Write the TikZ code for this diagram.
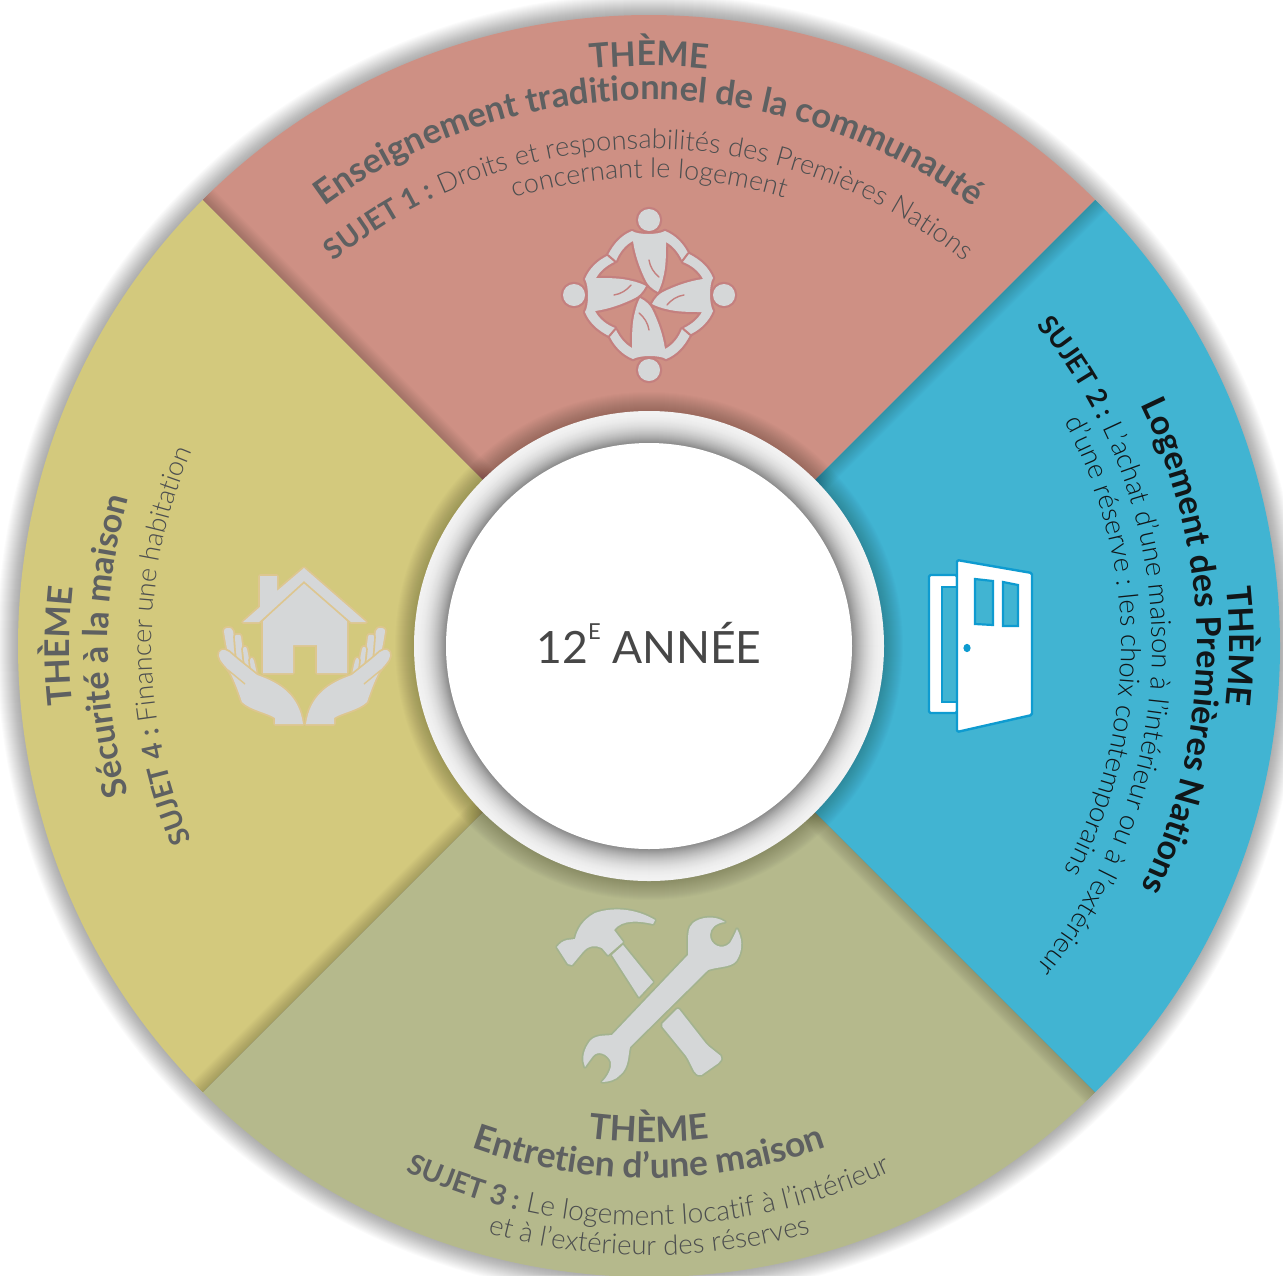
\documentclass[tikz,border=0pt]{standalone}
\usepackage{fontspec}
\setmainfont{Lato}
\newfontface\lightf{Lato Light}
\usetikzlibrary{decorations.text}
\definecolor{cred}{HTML}{CE9084}
\definecolor{cblue}{HTML}{41B4D2}
\definecolor{colive}{HTML}{B5B98C}
\definecolor{cyellow}{HTML}{D3C97D}
\definecolor{icong}{HTML}{D5D7D8}
\definecolor{oPink}{HTML}{C4807F}
\definecolor{oTan}{HTML}{DDC690}
\definecolor{oGreen}{HTML}{A3B38F}
\definecolor{oBlue}{HTML}{0E9BD0}
\definecolor{tgrey}{HTML}{5E6061}
\definecolor{tlight}{HTML}{4C4E4F}
\definecolor{tdark}{HTML}{111618}
\newcommand\hdf[1]{\fontsize{#1}{#1}\selectfont\bfseries}
\newcommand\ltf[1]{\fontsize{#1}{#1}\selectfont\lightf}
\newcommand\arctxt[4]{\path[decorate,decoration={text along path,text align=center,text={#4}}] (#2:#1) arc[start angle=#2,end angle=#3,radius=#1];}
\newcommand\wdg[2]{(0,0) -- (#1:631) arc[start angle=#1,end angle=#2,radius=631] -- cycle}
\newcommand\edgeshade[3]{\begin{scope}\clip \wdg{#1}{#2};
 \foreach \w in {2,4,...,30} \draw[black,opacity=.012,line width=\w pt] (0,0) -- (#3:631);
 \end{scope}}
\tikzset{
 people/.style={fill=icong,preaction={draw=oPink,line width=4.4pt,line join=round}},
 crease/.style={draw=oPink,line width=1.4pt,line cap=round},
 houseicon/.style={fill=icong,preaction={draw=oTan,line width=3.6pt,line join=round}},
 toolicon/.style={fill=icong,preaction={draw=oGreen,line width=3.4pt,line join=round}},
 dooricon/.style={fill=white,draw=oBlue,line width=2.4pt,line join=round,rounded corners=1.5pt},
 doorhole/.style={fill=cblue,draw=oBlue,line width=2.2pt,line join=miter}
}
\begin{document}
\begin{tikzpicture}[x=1pt,y=-1pt]
\useasboundingbox (0,0) rectangle (1283,1275);
\fill[white] (0,0) rectangle (1283,1275);
\coordinate (C) at (649,646);
% concentric parts, y upward
\begin{scope}[shift={(C)},x=1pt,y=1pt]
 \foreach \r in {632,633,...,652} \fill[black,opacity=.014] (0,0) circle[radius=\r];
 \fill[cred] \wdg{45}{135};
 \fill[cyellow] \wdg{135}{225};
 \fill[colive] \wdg{225}{315};
 \fill[cblue] \wdg{-45}{45};
 \edgeshade{-45}{45}{45}
 \edgeshade{225}{315}{-45}
 \edgeshade{135}{225}{225}
 \edgeshade{45}{135}{135}
 \foreach \r in {236,237,...,254} \fill[black,opacity=.012] (0,0) circle[radius=\r];
 \foreach \r in {235,234,...,204}{
  \pgfmathsetmacro\p{5+42*((235-\r)/32)^2}
  \fill[black!\p!white] (0,0) circle[radius=\r];
 }
 \fill[white] (0,0) circle[radius=203];
 % top
 \arctxt{580}{150}{30}{|\hdf{34}\color{tgrey}|THÈME}
 \arctxt{546}{160}{20}{|\hdf{34.5}\color{tgrey}|Enseignement traditionnel de la communauté}
 \arctxt{497}{160}{20}{|\hdf{28.5}\color{tgrey}|SUJET 1 :|\ltf{27.2}\color{tlight}| Droits et responsabilités des Premières Nations}
 \arctxt{468}{160}{20}{|\ltf{27}\color{tlight}|concernant le logement}
 % right
 \arctxt{580}{70}{-70}{|\hdf{34}\color{tdark}|THÈME}
 \arctxt{548}{70}{-70}{|\hdf{34}\color{tdark}|Logement des Premières Nations}
 \arctxt{503}{70}{-70}{|\hdf{27}\color{tdark}|SUJET 2 :|\ltf{27.6}\color{tdark}| L’achat d’une maison à l’intérieur ou à l’extérieur}
 \arctxt{472}{70}{-70}{|\ltf{27.5}\color{tdark}|d’une réserve : les choix contemporains}
 % bottom
 \arctxt{496}{210}{330}{|\hdf{35}\color{tgrey}|THÈME}
 \arctxt{532}{200}{340}{|\hdf{35.3}\color{tgrey}|Entretien d’une maison}
 \arctxt{579}{200}{340}{|\hdf{28}\color{tgrey}|SUJET 3 :|\ltf{28.2}\color{tlight}| Le logement locatif à l’intérieur}
 \arctxt{609}{200}{340}{|\ltf{27.6}\color{tlight}|et à l’extérieur des réserves}
 % left
 \arctxt{579}{250}{110}{|\hdf{34}\color{tgrey}|THÈME}
 \arctxt{541}{250}{110}{|\hdf{34}\color{tgrey}|Sécurité à la maison}
 \arctxt{497}{250}{110}{|\hdf{28}\color{tgrey}|SUJET 4 :|\ltf{27}\color{tlight}| Financer une habitation}
\end{scope}
\node[text=black!72] (yr) at (649,643) {\fontsize{44.5}{45}\selectfont 12\raisebox{.55em}{\fontsize{22}{22}\selectfont E} ANNÉE};
% people icon
\foreach \a in {0,90,180,270}{
 \begin{scope}[shift={(649,295)},rotate=\a]
  \path[people] (-41,-40) .. controls (-35,-52) and (-27,-60) .. (-17,-64)
   .. controls (-11,-60) and (9,-60) .. (16,-64)
   .. controls (26,-60) and (34,-52) .. (39,-42) -- (33,-35)
   .. controls (29,-43) and (24,-49) .. (17,-53)
   .. controls (17,-40) and (17,-28) .. (14,-17)
   .. controls (13,-12) and (11,-7) .. (9,-3)
   .. controls (3,-6) and (-1,-10) .. (-3,-14)
   .. controls (-9,-26) and (-14,-40) .. (-16,-54)
   .. controls (-24,-50) and (-30,-42) .. (-33,-34) -- cycle;
  \draw[crease] (0,-35) .. controls (1,-28) and (5,-22) .. (10,-18);
  \path[people] (0,-75) circle[radius=11];
 \end{scope}
}
% house icon
\foreach \s/\o in {1/0,-1/609}{
 \begin{scope}[shift={(\o,0)},xscale=\s]
  \path[houseicon] plot[smooth cycle,tension=.35] coordinates {(224,631)(229,628)(233,631)(236,660)(230,662)};
  \path[houseicon] plot[smooth cycle,tension=.35] coordinates {(235,637)(238,635)(241,637)(244,668)(238,668)};
  \path[houseicon] plot[smooth cycle,tension=.35] coordinates {(243,649)(245,647)(247,649)(251,672)(246,672)};
  \path[houseicon] plot[smooth cycle,tension=.35] coordinates {(250,660)(252,658)(254,661)(257,676)(252,676)};
  \path[houseicon] (303,724) -- (275,724) -- (275,718) .. controls (268,713) and (250,710) .. (242,702)
   .. controls (238,690) and (234,680) .. (230,672) .. controls (226,666) and (220,662) .. (219,656)
   .. controls (218,650) and (224,648) .. (229,652) .. controls (238,660) and (247,667) .. (257,675)
   .. controls (280,683) and (299,695) .. (303,724) -- cycle;
  \draw[draw=oTan,line width=1.4pt] (228,670) -- (245,684);
 \end{scope}
}
\path[houseicon] (263,621) -- (304,581) -- (347,621) -- (347,673) -- (317,673) -- (317,645) -- (293,645) -- (293,673) -- (263,673) -- cycle;
\path[houseicon] (243,622) -- (260,607) -- (260,576) -- (277,576) -- (277,591) -- (304,568) -- (366,622) -- (351,622) -- (304,581) -- (259,622) -- cycle;
% door icon
\draw[dooricon] (929,575) rectangle (957,713);
\draw[doorhole] (957,587) -- (942,587) -- (942,702) -- (957,702);
\fill[cblue] (943,588) rectangle (956,701);
\draw[dooricon] (957,560) -- (1032,573) -- (1032,715) -- (957,732) -- cycle;
\draw[doorhole] (975,579) -- (993,581) -- (993,625) -- (975,624) -- cycle;
\draw[doorhole] (1003,582) -- (1018,585) -- (1018,626) -- (1003,626) -- cycle;
\fill[oBlue] (967,648) ellipse[x radius=3.6,y radius=4.2];
% hammer and wrench
\path[toolicon] (612,955) -- (623,945) -- (653,982) -- (639,997) -- cycle;
\path[toolicon,rounded corners=2pt] (661,1025) -- (678,1008) -- (707,1045) -- (722,1057) -- (720,1062) -- (700,1076) -- (695,1073) -- (687,1057) -- cycle;
\path[toolicon] (557,947) .. controls (560,943) and (563,941) .. (567,940) -- (575,939) .. controls (577,930) and (582,920) .. (595,913)
 .. controls (612,907) and (635,908) .. (655,920) -- (653,924) .. controls (640,921) and (622,919) .. (614,930) -- (623,942) -- (608,955) -- (602,948)
 .. controls (596,945) and (588,945) .. (582,953) -- (572,965) -- (568,964) -- cycle;
\path[toolicon] (688,945) .. controls (688,935) and (688,927) .. (693,923) .. controls (700,917) and (715,915) .. (725,922)
 .. controls (716,923) and (710,928) .. (710,935) .. controls (710,945) and (722,951) .. (730,943)
 .. controls (733,938) and (735,934) .. (737,929) .. controls (742,938) and (743,948) .. (738,958)
 .. controls (734,968) and (720,966) .. (708,970) -- (630,1047) .. controls (628,1055) and (629,1068) .. (620,1075)
 .. controls (616,1080) and (608,1082) .. (602,1082) .. controls (608,1076) and (612,1068) .. (611,1062)
 .. controls (608,1054) and (598,1050) .. (593,1056) .. controls (590,1060) and (587,1064) .. (585,1067)
 .. controls (582,1060) and (583,1052) .. (588,1044) .. controls (593,1034) and (605,1036) .. (612,1035) -- (688,955) -- cycle;
\end{tikzpicture}
\end{document}
